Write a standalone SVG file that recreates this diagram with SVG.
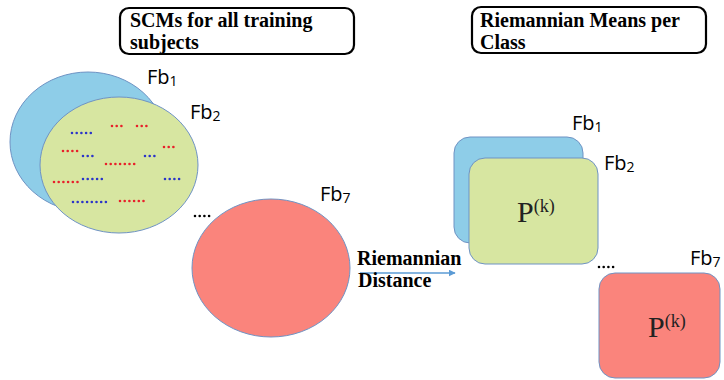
<svg xmlns="http://www.w3.org/2000/svg" width="724" height="380" viewBox="0 0 724 380">
<defs>
<style>
.title{font-family:"Liberation Serif",serif;font-weight:bold;font-size:20px;fill:#000}
.lbl{font-family:"Open Sans","Liberation Sans",sans-serif;font-size:20px;fill:#000}
.sub{font-size:14px}
.box{fill:#fff;stroke:#000;stroke-width:2.2}
.blue{fill:#8ecde8;stroke:#6f93c4;stroke-width:1}
.green{fill:#d7e6a1;stroke:#6f93c4;stroke-width:1}
.red{fill:#fa847c;stroke:#6f93c4;stroke-width:1}
.pk{font-family:"Liberation Serif",serif;font-size:30px;fill:#222}
.pks{font-size:18px}
.db{stroke:#2b35c9;stroke-width:2.6;stroke-linecap:round;stroke-dasharray:0 4.7;fill:none}
.dr{stroke:#e8202a;stroke-width:2.6;stroke-linecap:round;stroke-dasharray:0 4.7;fill:none}
.dk{stroke:#000;stroke-width:2.6;stroke-linecap:round;stroke-dasharray:0 4.7;fill:none}
.dist{font-family:"Liberation Serif",serif;font-weight:bold;font-size:20px;fill:#000}
</style>
<marker id="ah" viewBox="0 0 10 10" refX="9" refY="5" markerWidth="7" markerHeight="7" orient="auto" markerUnits="userSpaceOnUse">
<path d="M0,0 L10,5 L0,10 z" fill="#5b9bd5"/>
</marker>
</defs>

<g id="title-scm">
<rect class="box" x="120" y="8" width="234" height="46" rx="9"/>
<text class="title" x="130" y="27">SCMs for all training</text>
<text class="title" x="130" y="49">subjects</text>
</g>

<g id="title-means">
<rect class="box" x="472" y="7" width="234" height="46" rx="9"/>
<text class="title" x="480" y="27">Riemannian Means per</text>
<text class="title" x="480" y="49">Class</text>
</g>

<g id="scm-fb1">
<ellipse class="blue" cx="88" cy="142" rx="78" ry="70"/>
<text class="lbl" x="147" y="84">Fb<tspan class="sub" dy="2">1</tspan></text>
</g>

<g id="scm-fb2">
<ellipse class="green" cx="119" cy="165" rx="79" ry="68"/>
<text class="lbl" x="190" y="119">Fb<tspan class="sub" dy="2">2</tspan></text>
<path class="db" d="M72,133 h19"/>
<path class="dr" d="M112,126 h10"/>
<path class="dr" d="M137,126 h10"/>
<path class="dr" d="M63,151 h15"/>
<path class="db" d="M83,156 h10"/>
<path class="dr" d="M164,147 h10"/>
<path class="db" d="M145,156 h10"/>
<path class="dr" d="M106,164 h29"/>
<path class="dr" d="M54,182 h24"/>
<path class="db" d="M83,179 h19"/>
<path class="db" d="M165,179 h15"/>
<path class="db" d="M73,202 h33"/>
<path class="dr" d="M120,201 h24"/>
</g>

<g id="scm-fb7">
<ellipse class="red" cx="271" cy="268" rx="79" ry="69"/>
<text class="lbl" x="320" y="201">Fb<tspan class="sub" dy="2">7</tspan></text>
</g>

<g id="scm-ellipsis">
<path class="dk" d="M195,216 h15"/>
</g>

<g id="mean-fb1">
<rect class="blue" x="454" y="137" width="129" height="106" rx="16"/>
<text class="lbl" x="572" y="130">Fb<tspan class="sub" dy="2">1</tspan></text>
</g>

<g id="mean-fb2">
<rect class="green" x="469" y="158" width="129" height="106" rx="16"/>
<text class="lbl" x="604" y="170">Fb<tspan class="sub" dy="2">2</tspan></text>
<text class="pk" x="517" y="222">P<tspan class="pks" dy="-10">(k)</tspan></text>
</g>

<g id="mean-ellipsis">
<path class="dk" d="M599,267 h15"/>
</g>

<g id="mean-fb7">
<rect class="red" x="599" y="273" width="121" height="105" rx="16"/>
<text class="lbl" x="690" y="265">Fb<tspan class="sub" dy="2">7</tspan></text>
<text class="pk" x="648" y="337">P<tspan class="pks" dy="-10">(k)</tspan></text>
</g>

<g id="connectors">
<line x1="360" y1="273" x2="455" y2="273" stroke="#5b9bd5" stroke-width="1.5" marker-end="url(#ah)"/>
<text class="dist" x="357" y="265">Riemannian</text>
<text class="dist" x="358" y="287">Distance</text>
</g>
</svg>
